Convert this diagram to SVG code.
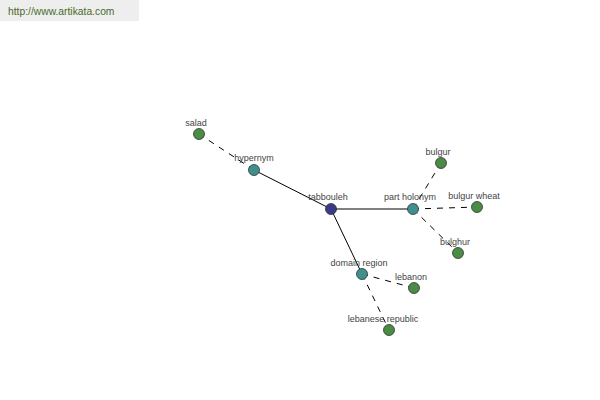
<svg xmlns="http://www.w3.org/2000/svg" width="600" height="400" viewBox="0 0 600 400">
<style>
.lbl{font-family:"Liberation Sans",Arial,sans-serif;font-size:9px;fill:#444;text-anchor:middle}
.n{stroke:#333;stroke-width:0.8}
.c{fill:#3a3a8a}
.t{fill:#3f8f8f}
.g{fill:#4a8c45}
.solid{stroke:#000;stroke-width:1;fill:none}
.dash{stroke:#000;stroke-width:1;fill:none;stroke-dasharray:6,6}
</style>
<rect x="0" y="0" width="139" height="21" fill="#eeeeee"/>
<text x="8" y="15" font-family="Liberation Sans,Arial,sans-serif" font-size="10.3" fill="#4a6a2a">http://www.artikata.com</text>
<g id="connectors">
<line class="solid" x1="331" y1="209" x2="254" y2="170"/>
<line class="solid" x1="331" y1="209" x2="413" y2="209"/>
<line class="solid" x1="331" y1="209" x2="362" y2="274"/>
<line class="dash" x1="254" y1="170" x2="199" y2="134"/>
<line class="dash" x1="413" y1="209" x2="441" y2="163"/>
<line class="dash" x1="413" y1="209" x2="477" y2="207"/>
<line class="dash" x1="413" y1="209" x2="458" y2="253"/>
<line class="dash" x1="362" y1="274" x2="414" y2="288"/>
<line class="dash" x1="362" y1="274" x2="389" y2="330"/>
</g>
<g id="tabbouleh"><circle class="n c" cx="331" cy="209" r="5.5"/><text class="lbl" x="328" y="200">tabbouleh</text></g>
<g id="hypernym"><circle class="n t" cx="254" cy="170" r="5.5"/><text class="lbl" x="254" y="161">hypernym</text></g>
<g id="salad"><circle class="n g" cx="199" cy="134" r="5.5"/><text class="lbl" x="196" y="126">salad</text></g>
<g id="part-holonym"><circle class="n t" cx="413" cy="209" r="5.5"/><text class="lbl" x="410" y="200">part holonym</text></g>
<g id="bulgur"><circle class="n g" cx="441" cy="163" r="5.5"/><text class="lbl" x="438" y="155">bulgur</text></g>
<g id="bulgur-wheat"><circle class="n g" cx="477" cy="207" r="5.5"/><text class="lbl" x="474" y="199">bulgur wheat</text></g>
<g id="bulghur"><circle class="n g" cx="458" cy="253" r="5.5"/><text class="lbl" x="455" y="245">bulghur</text></g>
<g id="domain-region"><circle class="n t" cx="362" cy="274" r="5.5"/><text class="lbl" x="359" y="266">domain region</text></g>
<g id="lebanon"><circle class="n g" cx="414" cy="288" r="5.5"/><text class="lbl" x="411" y="280">lebanon</text></g>
<g id="lebanese-republic"><circle class="n g" cx="389" cy="330" r="5.5"/><text class="lbl" x="383" y="322">lebanese republic</text></g>
</svg>
